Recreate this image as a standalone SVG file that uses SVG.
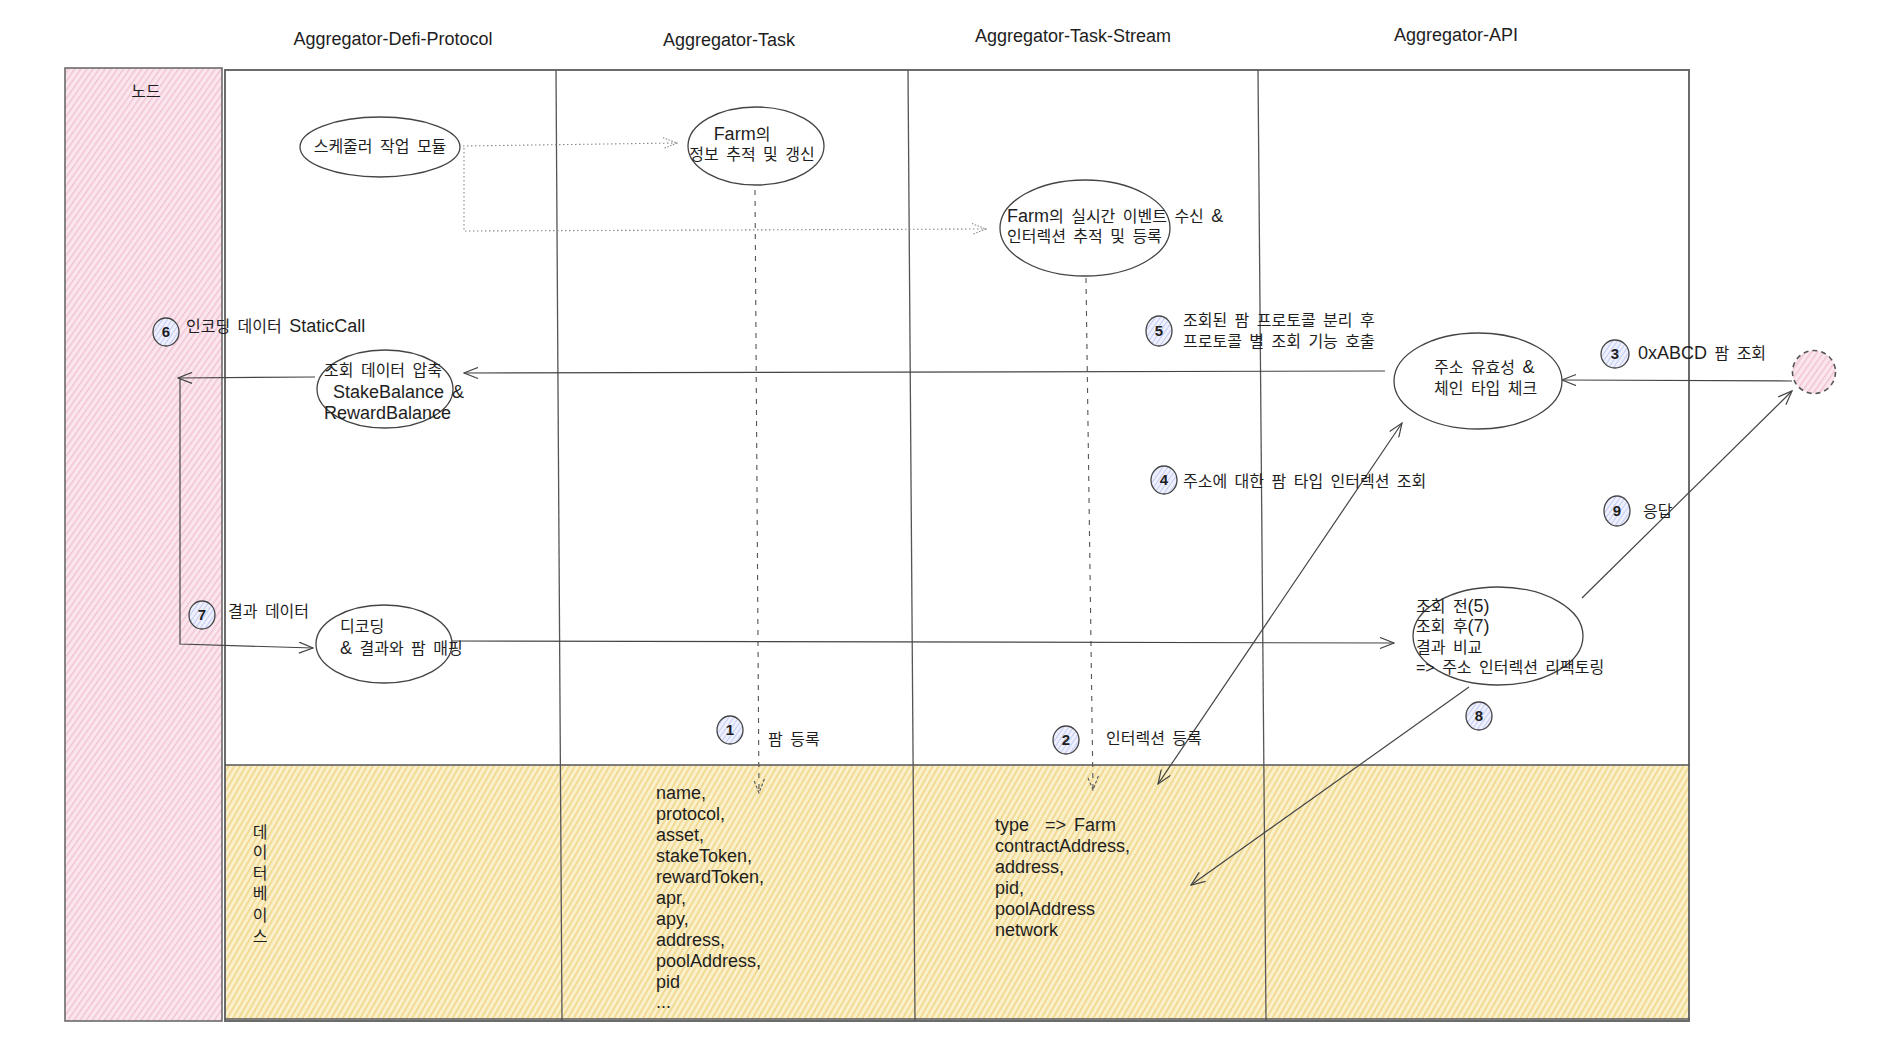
<svg xmlns="http://www.w3.org/2000/svg" width="1879" height="1050" viewBox="0 0 1879 1050">
<style>
text{font-family:"Liberation Sans","Noto Sans CJK KR",sans-serif;font-size:16px;fill:#1e1e1e;word-spacing:3px}
.hdr{font-size:18px;text-anchor:middle}
.lat{font-size:18px}
.ell{fill:#ffffff;stroke:#444;stroke-width:1.3}
.badge{fill:url(#blueHatch);stroke:#444;stroke-width:1.3}
.bnum{font-size:15px;font-weight:bold;text-anchor:middle}
.conn{fill:none;stroke:#444;stroke-width:1.2}
.dash{fill:none;stroke:#555;stroke-width:1.1;stroke-dasharray:5 6}
.dot{fill:none;stroke:#888;stroke-width:1.1;stroke-dasharray:1.5 2.5}
.lane{fill:none;stroke:#555;stroke-width:1.3}
</style>
<defs>
<pattern id="pinkHatch" patternUnits="userSpaceOnUse" width="5" height="5" patternTransform="rotate(35)">
<rect width="5" height="5" fill="#fbe6ee"/>
<line x1="0" y1="0" x2="0" y2="5" stroke="#f0c2d3" stroke-width="2.8"/>
</pattern>
<pattern id="yellowHatch" patternUnits="userSpaceOnUse" width="5" height="5" patternTransform="rotate(30)">
<rect width="5" height="5" fill="#fbf0cc"/>
<line x1="0" y1="0" x2="0" y2="5" stroke="#f0d88e" stroke-width="3.6"/>
</pattern>
<pattern id="blueHatch" patternUnits="userSpaceOnUse" width="4" height="4" patternTransform="rotate(35)">
<rect width="4" height="4" fill="#eef0fd"/>
<line x1="0" y1="0" x2="0" y2="4" stroke="#c3cbf3" stroke-width="2"/>
</pattern>
<marker id="arr" viewBox="0 0 16 12" refX="15" refY="6" markerWidth="16" markerHeight="12" markerUnits="userSpaceOnUse" orient="auto-start-reverse">
<path d="M1,0.5 L15,6 L1,11.5" fill="none" stroke="#444" stroke-width="1.2"/>
</marker>
<marker id="arrDash" viewBox="0 0 16 12" refX="15" refY="6" markerWidth="16" markerHeight="12" markerUnits="userSpaceOnUse" orient="auto">
<path d="M1,0.5 L15,6 L1,11.5" fill="none" stroke="#555" stroke-width="1.1" stroke-dasharray="3 2"/>
</marker>
<marker id="arrDot" viewBox="0 0 16 12" refX="15" refY="6" markerWidth="16" markerHeight="12" markerUnits="userSpaceOnUse" orient="auto">
<path d="M1,0.5 L15,6 L1,11.5" fill="none" stroke="#888" stroke-width="1.1" stroke-dasharray="1.5 1.5"/>
</marker>
</defs>
<rect width="1879" height="1050" fill="#ffffff"/>

<!-- lanes / background -->
<g id="lanes">
<rect x="225" y="70" width="1464" height="951" fill="#ffffff" stroke="#6b6b6b" stroke-width="2"/>
<rect x="226" y="765" width="1462" height="254" fill="url(#yellowHatch)"/>
<line class="lane" x1="225" y1="765" x2="1689" y2="765" stroke="#666" stroke-width="1.8"/>
<line class="lane" x1="225" y1="1019" x2="1689" y2="1019" stroke="#666" stroke-width="2"/>
<line class="lane" x1="556" y1="70" x2="562" y2="1021"/>
<line class="lane" x1="908" y1="70" x2="915" y2="1021"/>
<line class="lane" x1="1258" y1="70" x2="1266" y2="1021"/>
<text class="hdr" x="393" y="45">Aggregator-Defi-Protocol</text>
<text class="hdr" x="729" y="46">Aggregator-Task</text>
<text class="hdr" x="1073" y="42">Aggregator-Task-Stream</text>
<text class="hdr" x="1456" y="41">Aggregator-API</text>
</g>

<g id="node-lane">
<rect x="65" y="68" width="157" height="953" fill="url(#pinkHatch)" stroke="#6b6b6b" stroke-width="1.6"/>
<text x="146" y="97" text-anchor="middle">노드</text>
</g>

<g id="database">
<text x="260" y="838" text-anchor="middle">데</text>
<text x="260" y="858" text-anchor="middle">이</text>
<text x="260" y="879" text-anchor="middle">터</text>
<text x="260" y="899" text-anchor="middle">베</text>
<text x="260" y="921" text-anchor="middle">이</text>
<text x="260" y="942" text-anchor="middle">스</text>
</g>

<g id="farm-fields" class="lat">
<text class="lat" x="656" y="799">name,</text>
<text class="lat" x="656" y="820">protocol,</text>
<text class="lat" x="656" y="841">asset,</text>
<text class="lat" x="656" y="862">stakeToken,</text>
<text class="lat" x="656" y="883">rewardToken,</text>
<text class="lat" x="656" y="904">apr,</text>
<text class="lat" x="656" y="925">apy,</text>
<text class="lat" x="656" y="946">address,</text>
<text class="lat" x="656" y="967">poolAddress,</text>
<text class="lat" x="656" y="988">pid</text>
<text class="lat" x="656" y="1008">...</text>
</g>

<g id="interaction-fields">
<text class="lat" x="995" y="831" xml:space="preserve">type  =&gt; Farm</text>
<text class="lat" x="995" y="852">contractAddress,</text>
<text class="lat" x="995" y="873">address,</text>
<text class="lat" x="995" y="894">pid,</text>
<text class="lat" x="995" y="915">poolAddress</text>
<text class="lat" x="995" y="936">network</text>
</g>

<!-- connectors -->
<g id="connectors">
<path class="dot" d="M463,146 L677,143" marker-end="url(#arrDot)"/>
<path class="dot" d="M464,148 L464,231 L986,229" marker-end="url(#arrDot)"/>
<path class="dash" d="M755,190 L759,793" marker-end="url(#arrDash)"/>
<path class="dash" d="M1086,278 L1093,790" marker-end="url(#arrDash)"/>
<path class="conn" d="M1385,371 L464,373" marker-end="url(#arr)"/>
<path class="conn" d="M315,377 L178,378" marker-end="url(#arr)"/>
<path class="conn" d="M180,378 L180,644 L313,648" marker-end="url(#arr)"/>
<path class="conn" d="M452,641 L1394,643" marker-end="url(#arr)"/>
<path class="conn" d="M1158,784 L1402,423" marker-start="url(#arr)" marker-end="url(#arr)"/>
<path class="conn" d="M1469,687 L1191,885" marker-end="url(#arr)"/>
<path class="conn" d="M1792,381 L1562,380" marker-end="url(#arr)"/>
<path class="conn" d="M1582,598 L1792,391" marker-end="url(#arr)"/>
</g>

<!-- nodes -->
<g id="scheduler">
<ellipse class="ell" cx="380" cy="147" rx="80" ry="30"/>
<text x="380" y="152" text-anchor="middle">스케줄러 작업 모듈</text>
</g>
<g id="farm-tracker">
<ellipse class="ell" cx="756" cy="146" rx="68" ry="39"/>
<text x="742" y="140" text-anchor="middle"><tspan class="lat">Farm</tspan>의</text>
<text x="752" y="160" text-anchor="middle">정보 추적 및 갱신</text>
</g>
<g id="stream-tracker">
<ellipse class="ell" cx="1085" cy="228" rx="85" ry="48"/>
<text x="1007" y="222"><tspan class="lat">Farm</tspan>의 실시간 이벤트 수신 <tspan class="lat">&amp;</tspan></text>
<text x="1007" y="242">인터렉션 추적 및 등록</text>
</g>
<g id="compress">
<ellipse class="ell" cx="385" cy="389" rx="68" ry="39"/>
<text x="383" y="376" text-anchor="middle">조회 데이터 압축</text>
<text class="lat" x="333" y="398">StakeBalance &amp;</text>
<text class="lat" x="324" y="419">RewardBalance</text>
</g>
<g id="decode">
<ellipse class="ell" cx="384" cy="644" rx="68" ry="39"/>
<text x="340" y="632">디코딩</text>
<text x="340" y="654"><tspan class="lat">&amp;</tspan> 결과와 팜 매핑</text>
</g>
<g id="validate">
<ellipse class="ell" cx="1478" cy="381" rx="84" ry="48"/>
<text x="1434" y="373">주소 유효성 <tspan class="lat">&amp;</tspan></text>
<text x="1434" y="394">체인 타입 체크</text>
</g>
<g id="compare">
<ellipse class="ell" cx="1498" cy="636" rx="85" ry="49"/>
<text x="1416" y="612">조회 전<tspan class="lat">(5)</tspan></text>
<text x="1416" y="632">조회 후<tspan class="lat">(7)</tspan></text>
<text x="1416" y="653">결과 비교</text>
<text x="1416" y="673">=&gt; 주소 인터렉션 리팩토링</text>
</g>
<g id="user">
<circle cx="1814" cy="372" r="21.5" fill="url(#pinkHatch)" stroke="#555" stroke-width="1.6" stroke-dasharray="5 4"/>
</g>

<!-- step badges -->
<g id="step1">
<ellipse class="badge" cx="730" cy="730" rx="13" ry="14"/>
<text class="bnum" x="730" y="735">1</text>
<text x="768" y="745">팜 등록</text>
</g>
<g id="step2">
<ellipse class="badge" cx="1066" cy="740" rx="13" ry="14"/>
<text class="bnum" x="1066" y="745">2</text>
<text x="1106" y="744">인터렉션 등록</text>
</g>
<g id="step3">
<ellipse class="badge" cx="1615" cy="354" rx="14" ry="14"/>
<text class="bnum" x="1615" y="359">3</text>
<text x="1638" y="359"><tspan class="lat">0xABCD</tspan> 팜 조회</text>
</g>
<g id="step4">
<ellipse class="badge" cx="1164" cy="480" rx="13" ry="14"/>
<text class="bnum" x="1164" y="485">4</text>
<text x="1183" y="487">주소에 대한 팜 타입 인터렉션 조회</text>
</g>
<g id="step5">
<ellipse class="badge" cx="1159" cy="331" rx="13" ry="15"/>
<text class="bnum" x="1159" y="336">5</text>
<text x="1183" y="326">조회된 팜 프로토콜 분리 후</text>
<text x="1183" y="347">프로토콜 별 조회 기능 호출</text>
</g>
<g id="step6">
<ellipse class="badge" cx="166" cy="332" rx="13" ry="14"/>
<text class="bnum" x="166" y="337">6</text>
<text x="186" y="332">인코딩 데이터 <tspan class="lat">StaticCall</tspan></text>
</g>
<g id="step7">
<ellipse class="badge" cx="202" cy="615" rx="13" ry="14"/>
<text class="bnum" x="202" y="620">7</text>
<text x="228" y="617">결과 데이터</text>
</g>
<g id="step8">
<ellipse class="badge" cx="1479" cy="716" rx="13" ry="14"/>
<text class="bnum" x="1479" y="721">8</text>
</g>
<g id="step9">
<ellipse class="badge" cx="1617" cy="511" rx="13" ry="15"/>
<text class="bnum" x="1617" y="516">9</text>
<text x="1643" y="517">응답</text>
</g>
</svg>
